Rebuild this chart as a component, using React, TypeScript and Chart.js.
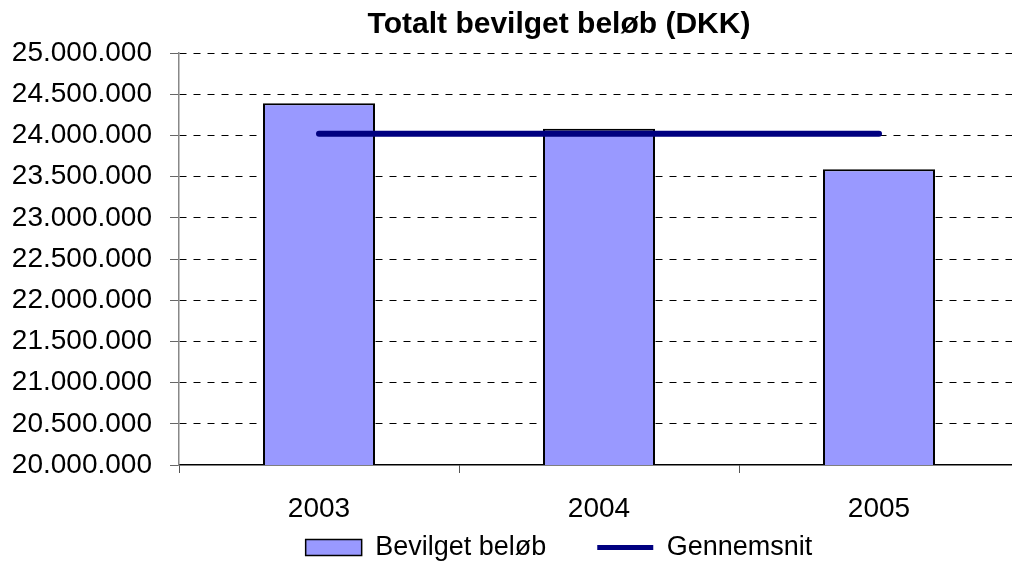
import React, { useEffect, useRef } from "react";
import { Chart, registerables } from "chart.js";

Chart.register(...registerables);

const categories = ["2003", "2004", "2005"];
const grantedValues = [24390000, 24080000, 23590000];
const averageValues = [24020000, 24020000, 24020000];
const yMin = 20000000;
const yMax = 25000000;
const yStep = 500000;

const FONT = "'Liberation Sans', Arial, sans-serif";
const CANVAS_W = 1118;
const CANVAS_H = 567;

function fmt(v: number): string {
  return Math.round(v).toString().replace(/\B(?=(\d{3})+(?!\d))/g, ".");
}

export default function App() {
  const ref = useRef<HTMLCanvasElement | null>(null);
  useEffect(() => {
    if (!ref.current) return;
    const chart = new Chart(ref.current, {
      type: "bar",
      data: {
        labels: categories,
        datasets: [
          {
            type: "bar",
            label: "Bevilget beløb",
            data: grantedValues,
            backgroundColor: "#9999FF",
            borderColor: "#000000",
            borderWidth: 2,
            barPercentage: 0.4,
            categoryPercentage: 1,
            order: 2,
          },
          {
            type: "line",
            label: "Gennemsnit",
            data: averageValues,
            borderColor: "#000080",
            backgroundColor: "#000080",
            borderWidth: 6,
            borderCapStyle: "round",
            pointRadius: 0,
            pointHoverRadius: 0,
            fill: false,
            order: 1,
          } as any,
        ],
      },
      options: {
        animation: false,
        responsive: false,
        maintainAspectRatio: false,
        layout: { padding: { left: 0, right: 0, top: 0, bottom: 0 } },
        plugins: {
          tooltip: { enabled: false },
          title: {
            display: true,
            text: "Totalt bevilget beløb (DKK)",
            color: "#000",
            font: { family: FONT, size: 30, weight: "bold", lineHeight: 1.0 },
            padding: { top: 9.5, bottom: 13.5 },
          },
          legend: {
            position: "bottom",
            maxHeight: 84,
            labels: {
              color: "#000",
              font: { family: FONT, size: 27, lineHeight: 1.0 },
              usePointStyle: true,
              pointStyleWidth: 56,
              boxHeight: 16,
              padding: 51,
              generateLabels: (c: any) =>
                c.data.datasets.map((ds: any, i: number) => ({
                  text: ds.label,
                  fillStyle: ds.type === "line" ? "#000080" : "#9999FF",
                  strokeStyle: ds.type === "line" ? "#000080" : "#000000",
                  lineWidth: ds.type === "line" ? 5 : 1.5,
                  pointStyle: ds.type === "line" ? "line" : "rect",
                  datasetIndex: i,
                  hidden: false,
                  fontColor: "#000",
                })),
            },
          },
        },
        scales: {
          x: {
            offset: true,
            afterFit: (s: any) => {
              s.height = 18;
            },
            grid: {
              offset: true,
              drawOnChartArea: false,
              drawTicks: true,
              tickLength: 8,
              color: "#000",
              tickColor: "#555",
            },
            border: { display: true, color: "#000", width: 1.5 },
            ticks: {
              color: "#000",
              font: { family: FONT, size: 28 },
              mirror: true,
              padding: -61,
              maxRotation: 0,
              autoSkip: false,
            },
          },
          y: {
            min: yMin,
            max: yMax,
            afterFit: (s: any) => {
              s.width = 179;
            },
            grid: {
              color: (ctx: any) => (ctx.tick && ctx.tick.value === yMin ? "rgba(0,0,0,0)" : "#000"),
              lineWidth: 1,
              drawTicks: true,
              tickLength: 9,
              tickColor: "#666",
            },
            border: { display: true, color: "#888", width: 1.5, dash: [7, 7] },
            ticks: {
              stepSize: yStep,
              color: "#000",
              font: { family: FONT, size: 28 },
              padding: 18,
              callback: (v: any) => fmt(Number(v)),
            },
          },
          yRightSpace: {
            type: "linear",
            position: "right",
            display: true,
            afterFit: (s: any) => {
              s.width = CANVAS_W - 1019;
            },
            grid: { display: false, drawTicks: false },
            border: { display: false },
            ticks: { display: false },
          } as any,
        },
      },
    });
    return () => chart.destroy();
  }, []);
  return (
    <div style={{ position: "absolute", left: 0, top: 0, width: 1012, height: 567, overflow: "hidden", background: "#fff" }}>
      <canvas ref={ref} width={CANVAS_W} height={CANVAS_H} style={{ width: CANVAS_W, height: CANVAS_H, display: "block" }} />
    </div>
  );
}
